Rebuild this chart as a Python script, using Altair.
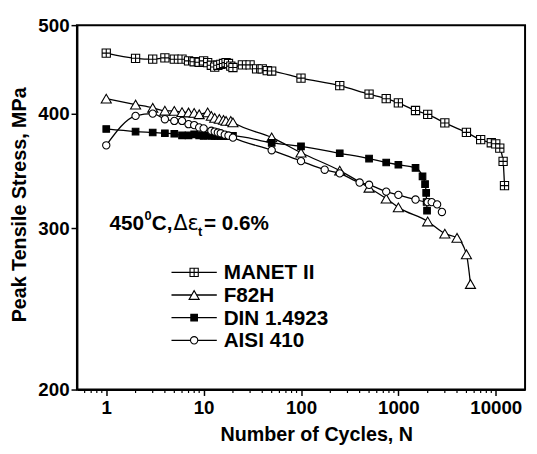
import altair as alt
import pandas as pd

series_names = ["MANET II", "F82H", "DIN 1.4923", "AISI 410"]

manet_n = [1, 2, 3, 4, 5, 6, 7, 8, 9, 10, 11, 12, 13, 14, 15, 16, 17, 18, 19, 20,
           25, 30, 35, 40, 45, 50, 100, 250, 500, 750, 1000, 1500, 2000, 3000,
           5000, 7000, 9000, 10000, 11000, 11900, 12300]
manet_s = [466, 460, 459, 460.5, 459, 459, 457, 456, 455.5, 457, 455, 452, 450, 452,
           453, 454, 455, 454, 451, 449.5, 452.5, 452.5, 448, 448, 446, 445.5,
           437.6, 429.4, 420.4, 415.6, 411.3, 403.4, 399.5, 391, 381.8, 375, 372,
           371, 367, 355, 334]

f82h_n = [1, 2, 3, 4, 5, 6, 7, 8, 9, 11, 12, 13, 14.5, 16, 17, 19, 20, 50, 100,
          250, 500, 750, 1000, 2000, 3000, 4000, 5000, 5500]
f82h_s = [415.6, 409.5, 406.2, 403.2, 403, 401.7, 401.4, 401, 399.6, 401.5, 398,
          396, 395, 394, 393, 393, 391.6, 377, 362.8, 346.8, 332.2, 323.3, 316.2,
          305.2, 296, 292.9, 281, 260.8]

din_n = [1, 2, 3, 4, 5, 6, 7, 8, 9, 10, 11, 12, 13, 14, 15, 16, 17, 18, 19, 20,
         50, 100, 250, 500, 750, 1000, 1500, 1770, 1880, 1930, 1950, 1970]
din_s = [385.1, 382.6, 381.7, 381, 380.5, 379, 379, 380, 379, 378.5, 379, 378.5,
         378.5, 378.5, 378.5, 378.5, 378.5, 378.5, 378.5, 378.5, 371.8, 368.7,
         362.3, 357.5, 354, 352, 349.2, 341.9, 335.2, 327.9, 320.5, 313.6]

aisi_n = [1, 2, 3, 4, 5, 6, 7, 8, 9, 10, 12, 13, 14, 15, 16.5, 18, 20, 50, 100,
          175, 250, 400, 500, 750, 1000, 1500, 2000, 2200, 2500, 2800]
aisi_s = [369.6, 398, 400.3, 394.7, 393, 393, 389.8, 388.9, 386.6, 385.7, 383.4,
          382.6, 381.7, 381, 379.6, 378.8, 376.8, 365.1, 355.2, 347.6, 344.4,
          336.6, 334.7, 329, 326.3, 322.5, 320.4, 320.4, 318.6, 312.6]

x_major = [1, 10, 100, 1000, 10000]
x_minor = [0.6, 0.7, 0.8, 0.9, 2, 3, 4, 5, 6, 7, 8, 9, 20, 30, 40, 50, 60, 70, 80, 90,
           200, 300, 400, 500, 600, 700, 800, 900, 2000, 3000, 4000, 5000, 6000,
           7000, 8000, 9000]
y_ticks = [200, 300, 400, 500]

FONT = "Liberation Sans"
W, H = 455, 370
xscale = alt.Scale(type="log", domain=[0.5, 20000], nice=False)
yscale = alt.Scale(type="log", domain=[200, 500], nice=False)
xaxis = alt.Axis(values=x_major, format="d", title="Number of Cycles, N")
yaxis = alt.Axis(values=y_ticks, format="d", title="Peak Tensile Stress, MPa")

manet_shape = "M-1,-1L1,-1L1,1L-1,1Z M0,-1L0,1 M-1,0L1,0"
styles = [
    dict(shape=manet_shape, fill="white", size=70),
    dict(shape="triangle-up", fill="white", size=105),
    dict(shape="square", fill="black", size=45),
    dict(shape="circle", fill="white", size=55),
]
data_sets = [(manet_n, manet_s), (f82h_n, f82h_s), (din_n, din_s), (aisi_n, aisi_s)]

layers = []

leg_y0 = 251
leg_dy = 23
for i, (name, (n, s)) in enumerate(zip(series_names, data_sets)):
    df = pd.DataFrame({"cycles": n, "stress": s, "series": name})
    st = styles[i]
    enc = dict(
        x=alt.X("cycles:Q", scale=xscale, axis=xaxis, title="Number of Cycles, N"),
        y=alt.Y("stress:Q", scale=yscale, axis=yaxis, title="Peak Tensile Stress, MPa"),
    )
    layers.append(alt.Chart(df).mark_line(color="black", strokeWidth=1.3,
                                          interpolate="monotone").encode(**enc))
    layers.append(alt.Chart(df).mark_point(shape=st["shape"], filled=True,
                                           fill=st["fill"], stroke="black",
                                           strokeWidth=1.1, size=st["size"],
                                           opacity=1).encode(**enc))

minor_df = pd.DataFrame({"cycles": x_minor})
layers.append(
    alt.Chart(minor_df).mark_rule(color="black", strokeWidth=1.2).encode(
        x=alt.X("cycles:Q", scale=xscale, axis=xaxis, title="Number of Cycles, N"),
        y=alt.value(H), y2=alt.value(H + 3.5),
    )
)

for i, name in enumerate(series_names):
    st = styles[i]
    one = pd.DataFrame({"name": [name]})
    ly = leg_y0 + i * leg_dy
    layers.append(alt.Chart(one).mark_rule(color="black", strokeWidth=1.3).encode(
        x=alt.value(96), x2=alt.value(142), y=alt.value(ly)))
    layers.append(alt.Chart(one).mark_point(shape=st["shape"], filled=True,
                                            fill=st["fill"], stroke="black",
                                            strokeWidth=1.1, size=st["size"],
                                            opacity=1).encode(
        x=alt.value(119), y=alt.value(ly)))
    layers.append(alt.Chart(one).mark_text(align="left", baseline="middle",
                                           font=FONT, fontWeight="bold",
                                           fontSize=21).encode(
        x=alt.value(149), y=alt.value(ly + 1), text="name:N"))

# annotation: 450°C, Δε_t = 0.6%
ann_parts = [
    ("450", 33, 208, 21, "bold", FONT),
    ("0", 68.5, 198, 13, "bold", FONT),
    ("C,", 76, 208, 21, "bold", FONT),
    ("Δε", 98, 208, 21, "normal", "DejaVu Sans"),
    ("t", 123, 214, 13, "bold", FONT),
    ("= 0.6%", 129, 208, 21, "bold", FONT),
]
for txt, ax, ay, fs, fw, ff in ann_parts:
    layers.append(alt.Chart(pd.DataFrame({"t": [txt]})).mark_text(
        align="left", baseline="alphabetic", font=ff, fontWeight=fw,
        fontSize=fs, color="black").encode(
        x=alt.value(ax), y=alt.value(ay), text="t:N"))

chart = alt.layer(*layers).properties(
    width=W, height=H,
    autosize=alt.AutoSizeParams(type="none"),
    padding={"left": 70, "top": 14, "right": 4, "bottom": 60},
).configure_view(
    stroke="black", strokeWidth=2
).configure_axis(
    grid=False, domainColor="black", domainWidth=2, tickColor="black",
    tickWidth=1.5, tickSize=6, labelFont=FONT, labelFontWeight="bold",
    labelFontSize=19, labelColor="black", titleFont=FONT, titleFontWeight="bold",
    titleFontSize=20, titleColor="black",
).configure_axisX(
    labelPadding=3, titleX=243, titleY=52, titleAlign="center",
    titleBaseline="alphabetic",
).configure_axisY(
    labelPadding=2, titleX=-52, titleY=182, titleAngle=-90, titleAlign="center",
    titleBaseline="alphabetic",
)

chart.save("out.html", embed_options={"renderer": "svg", "actions": False})
